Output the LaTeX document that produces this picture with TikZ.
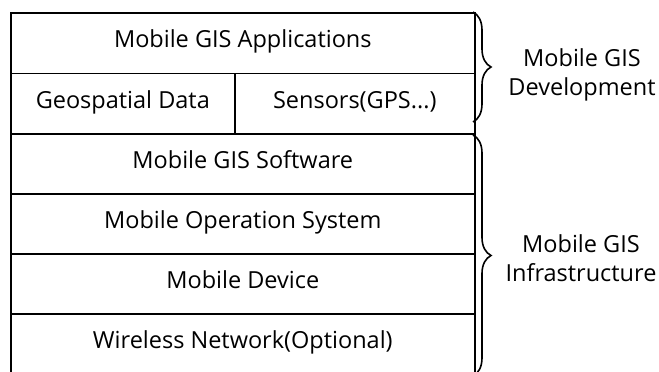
\documentclass[tikz,border=0pt]{standalone}
\usepackage{fontspec}
\setmainfont{Open Sans}
\usetikzlibrary{decorations.pathreplacing}
\begin{document}
\begin{tikzpicture}[x=1pt,y=-1pt,
  layer/.style={draw=black,line width=1.6pt,rectangle,inner sep=0pt,anchor=north west,
    minimum height=60.5pt,text height=17pt,text depth=8pt,font=\fontsize{23.5}{26}\selectfont},
  lbl/.style={align=center,font=\fontsize{23.5}{29}\selectfont},
  bracestyle/.style={draw=black,line width=1.6pt,decorate,decoration={brace,amplitude=18pt}}]
\useasboundingbox (0,0) rectangle (659,372);
\begin{scope}
\clip (0,0) rectangle (659,372);
\node[layer,minimum width=464pt] (apps) at (10,12) {Mobile GIS Applications};
\node[layer,minimum width=224pt] (geo) at (10,72.5) {Geospatial Data};
\node[layer,minimum width=240pt] (sens) at (234,72.5) {Sensors(GPS...)};
\node[layer,minimum width=464pt] (soft) at (10,133) {Mobile GIS Software};
\node[layer,minimum width=464pt] (os) at (10,193) {Mobile Operation System};
\node[layer,minimum width=464pt] (dev) at (10,253) {Mobile Device};
\node[layer,minimum width=464pt] (net) at (10,313) {Wireless Network(Optional)};
\coordinate (b1a) at (473,12);
\coordinate (b1b) at (473,122);
\coordinate (b2a) at (473,135);
\coordinate (b2b) at (473,376);
\draw[bracestyle] (b1a) -- (b1b);
\draw[bracestyle] (b2a) -- (b2b);
\end{scope}
\node[lbl] (devl) at (582,75) {Mobile GIS\\Development};
\node[lbl] (infl) at (581,258) {Mobile GIS\\Infrastructure};
\end{tikzpicture}
\end{document}
